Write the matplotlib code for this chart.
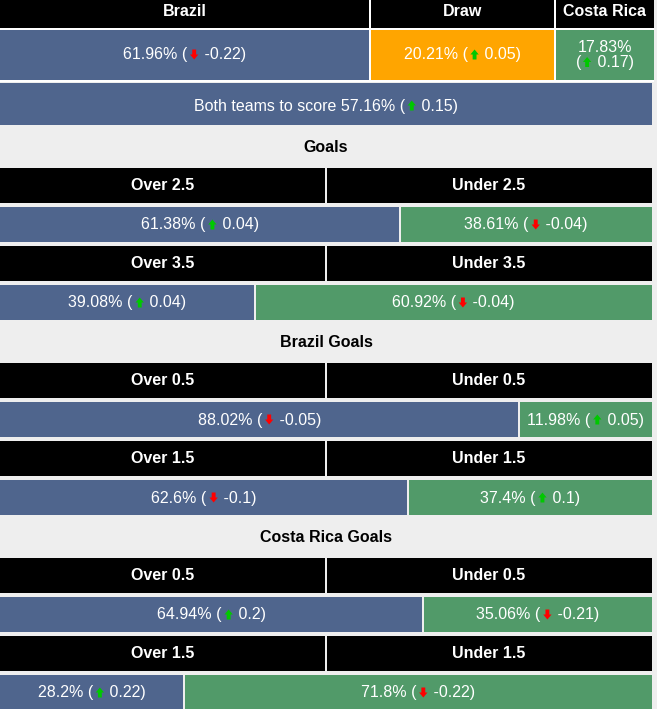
# brazil vs costa rica market probabilities

import matplotlib
matplotlib.use("Agg")
import matplotlib.pyplot as plt
from matplotlib.patches import Polygon
from matplotlib.offsetbox import TextArea, HPacker, VPacker, DrawingArea, AnnotationBbox

# data
teams = ["Brazil", "Draw", "Costa Rica"]
match_pct = [61.96, 20.21, 17.83]
match_chg = [-0.22, 0.05, 0.17]
btts_pct = 57.16
btts_chg = 0.15

sections = ["Goals", "Brazil Goals", "Costa Rica Goals"]
section_lines = [["2.5", "3.5"], ["0.5", "1.5"], ["0.5", "1.5"]]
over_pct = [61.38, 39.08, 88.02, 62.6, 64.94, 28.2]
over_chg = [0.04, 0.04, -0.05, -0.1, 0.2, 0.22]
under_pct = [38.61, 60.92, 11.98, 37.4, 35.06, 71.8]
under_chg = [-0.04, -0.04, 0.05, 0.1, -0.21, -0.22]

# styles
BLUE = "#4f658d"
GREEN = "#519a69"
ORANGE = "#ffa500"
BG = "#eeeeee"
UP = "#00c800"
DOWN = "#ff0000"
FONT = "Liberation Sans"
FS = 11.5

W = 652          # content width in px
TOP_W = 654
top_cols = [0.0, 0.5655, 0.8485, 1.0]   # column layout of the 1x2 table
min_frac = 0.204                         # bars never get narrower than the label

fig = plt.figure(figsize=(6.57, 7.09), dpi=100, facecolor=BG)
ax = fig.add_axes([0, 0, 1, 1])
ax.set_xlim(0, 657)
ax.set_ylim(709, 0)
ax.axis("off")


def arrow_box(chg):
    w, h = 6.0, 7.2
    da = DrawingArea(w, h, 0, 0)
    if chg >= 0:
        pts = [(1.6, 0), (4.4, 0), (4.4, 3.6), (w, 3.6), (w / 2, h), (0, 3.6), (1.6, 3.6)]
        col = UP
    else:
        pts = [(1.6, h), (4.4, h), (4.4, h - 3.6), (w, h - 3.6), (w / 2, 0), (0, h - 3.6), (1.6, h - 3.6)]
        col = DOWN
    da.add_artist(Polygon(pts, closed=True, facecolor=col, edgecolor="none"))
    return da


def value_label(x, y, prefix, pct, chg, two_lines=False):
    tp = dict(color="white", fontsize=FS, family=FONT)
    pct_txt = TextArea(f"{prefix}{pct}%" + ("" if two_lines else " ("), textprops=tp)
    tail = [TextArea("(" if two_lines else "", textprops=tp), arrow_box(chg),
            TextArea(f" {chg})", textprops=tp)]
    if two_lines:
        box = VPacker(children=[pct_txt, HPacker(children=tail, align="baseline", pad=0, sep=1.5)],
                      align="center", pad=0, sep=0)
    else:
        box = HPacker(children=[pct_txt] + tail, align="baseline", pad=0, sep=1.0)
    ab = AnnotationBbox(box, (x, y), xycoords="data", frameon=False, box_alignment=(0.5, 0.5))
    ax.add_artist(ab)


# 1x2 table
ax.barh(40, TOP_W, left=0, height=83, color="white")
head_h = 28
row_y0 = 30
row_h = 50
cell_colors = [BLUE, ORANGE, GREEN]
for i, team in enumerate(teams):
    left = top_cols[i] * TOP_W + (1 if i > 0 else 0)
    right = top_cols[i + 1] * TOP_W - (1 if i < 2 else 0)
    ax.barh(head_h / 2, right - left, left=left, height=head_h, color="black")
    ax.text((left + right) / 2, 11, team, color="white", fontsize=FS, fontweight="bold",
            family=FONT, ha="center", va="center")
    ax.barh(row_y0 + row_h / 2, right - left, left=left, height=row_h, color=cell_colors[i])
    value_label((left + right) / 2, row_y0 + row_h / 2, "", match_pct[i], match_chg[i],
                two_lines=(i == 2))

# both teams to score
ax.barh(104, W, left=0, height=42, color=BLUE)
value_label(W / 2, 106, "Both teams to score ", btts_pct, btts_chg)

# over/under sections
cell_h = 35
gap = 4
y = 125
k = 0
for s, name in enumerate(sections):
    ax.text(W / 2, y + 22.5, name, color="black", fontsize=FS, fontweight="bold",
            family=FONT, ha="center", va="center")
    y += 43
    for j, line in enumerate(section_lines[s]):
        # header row
        ax.barh(y + cell_h / 2, W / 2 - 1, left=0, height=cell_h, color="black")
        ax.barh(y + cell_h / 2, W / 2 - 1, left=W / 2 + 1, height=cell_h, color="black")
        ax.text(W / 4, y + cell_h / 2, f"Over {line}", color="white", fontsize=FS,
                fontweight="bold", family=FONT, ha="center", va="center")
        ax.text(3 * W / 4, y + cell_h / 2, f"Under {line}", color="white", fontsize=FS,
                fontweight="bold", family=FONT, ha="center", va="center")
        y += cell_h + gap
        # value row
        split = min(max(over_pct[k] / 100, min_frac), 1 - min_frac) * W
        ax.barh(y + cell_h / 2, split - 1, left=0, height=cell_h, color=BLUE)
        ax.barh(y + cell_h / 2, W - split - 1, left=split + 1, height=cell_h, color=GREEN)
        value_label(split / 2, y + cell_h / 2 + 0.5, "", over_pct[k], over_chg[k])
        value_label((split + W) / 2, y + cell_h / 2 + 0.5, "", under_pct[k], under_chg[k])
        y += cell_h + (gap if j < len(section_lines[s]) - 1 else 0)
        k += 1

fig.savefig("out.png", dpi=100, facecolor=BG)
